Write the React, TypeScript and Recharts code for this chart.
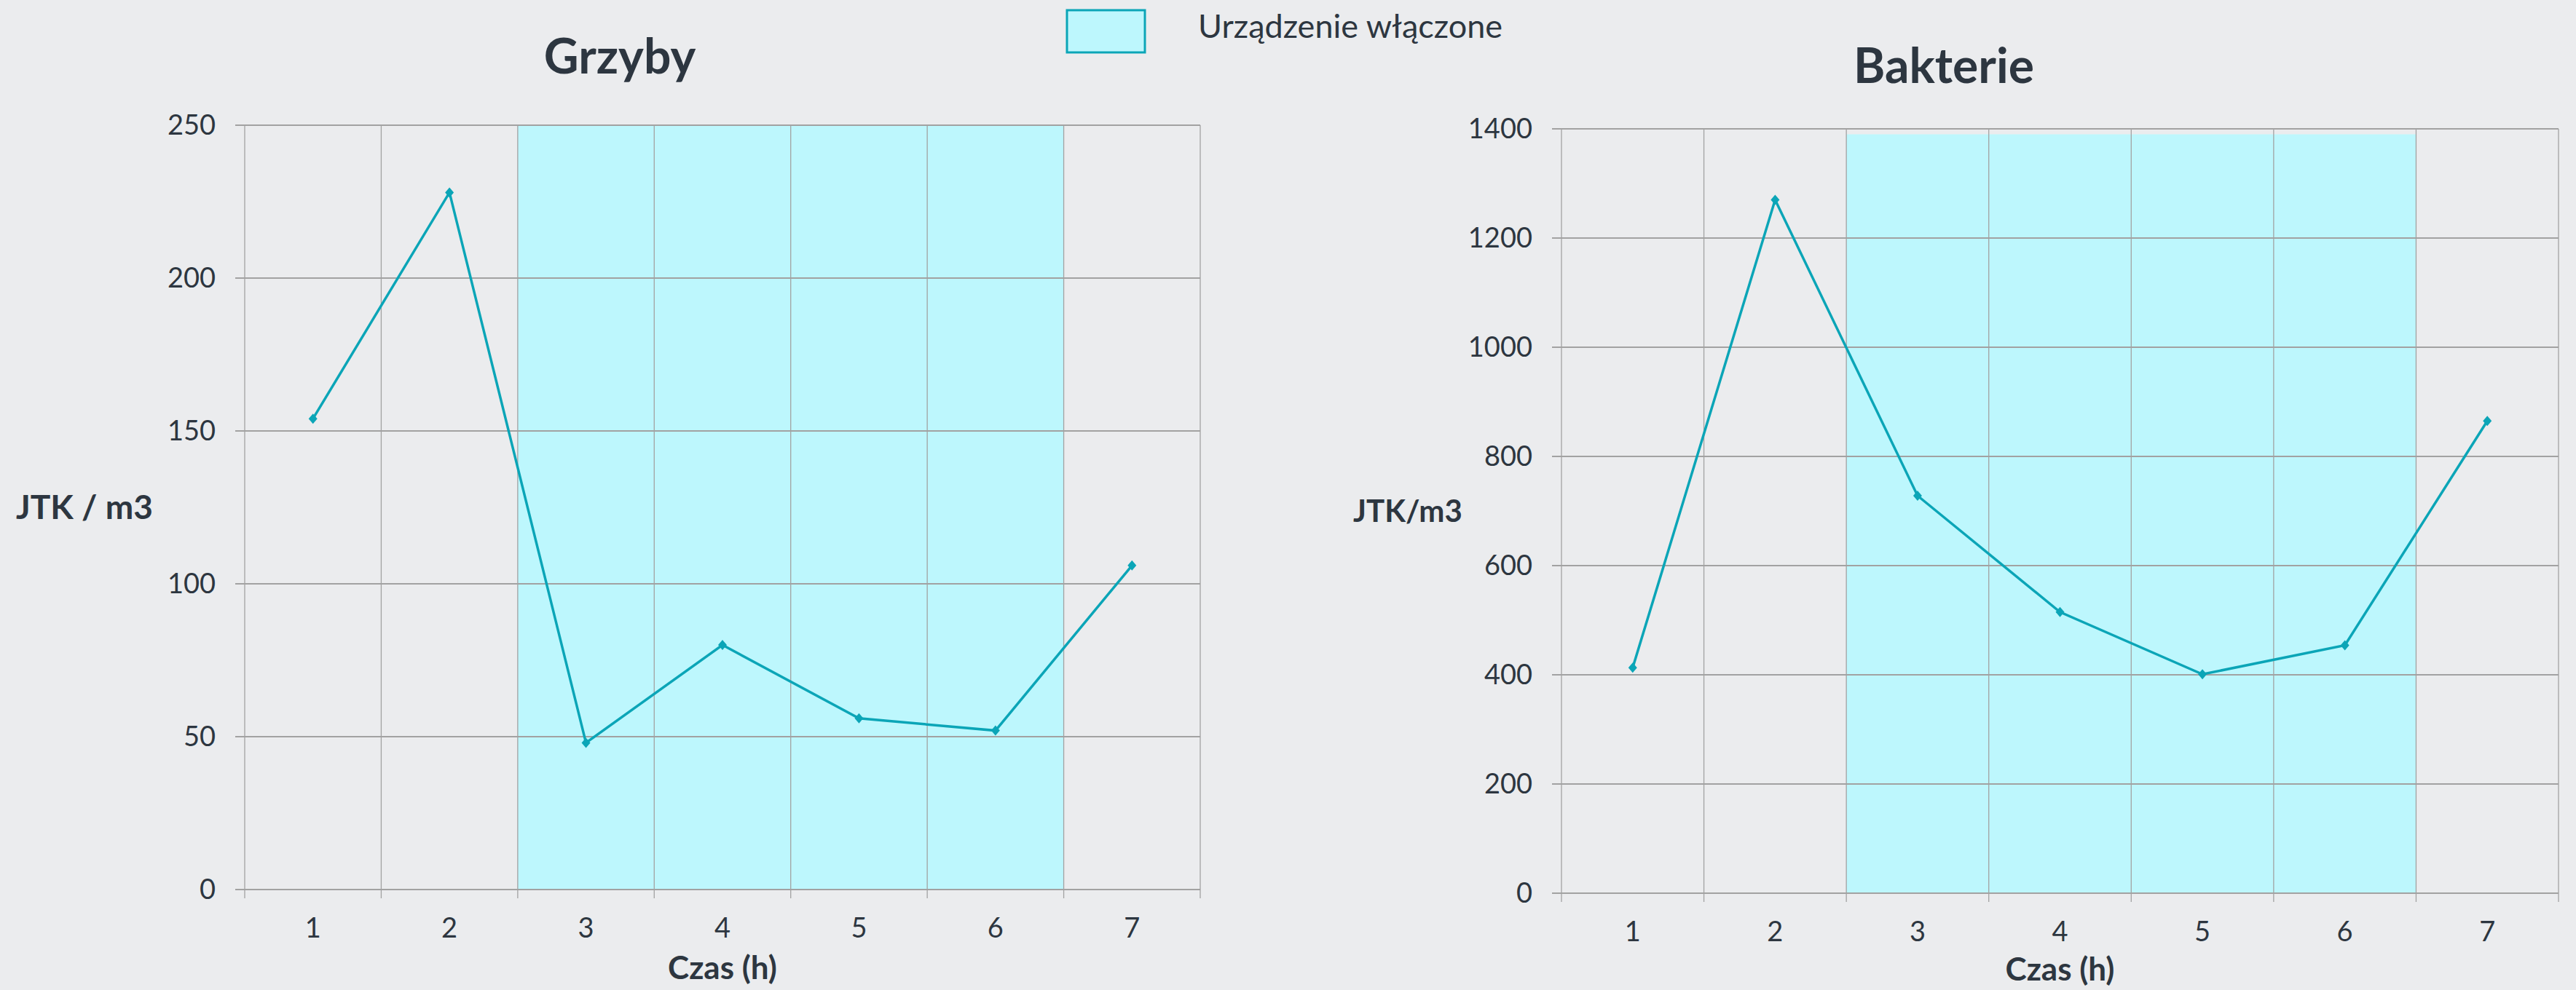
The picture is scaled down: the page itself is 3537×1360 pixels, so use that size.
import React from "react";
import { ComposedChart, Line, XAxis, YAxis, CartesianGrid, ReferenceArea } from "recharts";

// hours of measurement
const hours = [1, 2, 3, 4, 5, 6, 7];
// hours when the device was switched on
const deviceOnHours = [3, 4, 5, 6];

const fungiValues = [154, 228, 48, 80, 56, 52, 106];
const bacteriaValues = [413, 1270, 728, 515, 401, 454, 865];

const fungiTicks = [0, 50, 100, 150, 200, 250];
const bacteriaTicks = [0, 200, 400, 600, 800, 1000, 1200, 1400];

// top of the shaded band in each chart
const fungiShadeTop = 250;
const bacteriaShadeTop = 1390;

const BG = "#EBECEE";
const TEXT = "#2D3640";
const TEAL = "#0BA5B7";
const SHADE = "#BDF7FD";
const GRID = "#A2A2A2";
const FONT = "Lato, 'Open Sans', sans-serif";

const boundaries = [...hours.map(h => h - 0.5), hours[hours.length - 1] + 0.5];
const allXTicks = [...boundaries, ...hours].sort((a, b) => a - b);

function Diamond(props: any) {
  const { cx, cy, index } = props;
  if (cx == null || cy == null) return <g key={index} />;
  return (
    <path
      key={`d-${index}`}
      d={`M${cx},${cy - 7}L${cx + 6},${cy}L${cx},${cy + 7}L${cx - 6},${cy}Z`}
      fill={TEAL}
    />
  );
}

function XTick(props: any) {
  const { x, y, payload } = props;
  const v = payload.value;
  if (Number.isInteger(v)) {
    return (
      <text x={x} y={y + 66} textAnchor="middle" fill={TEXT} fontSize={38} fontFamily={FONT}>
        {v}
      </text>
    );
  }
  return <line x1={x} y1={y} x2={x} y2={y + 12} stroke={GRID} strokeWidth={1.3} />;
}

interface PanelProps {
  values: number[];
  yTicks: number[];
  shadeTop: number;
  yLabel: string;
  yLabelSize: number;
  width: number;
  marginTop: number;
  marginRight: number;
  yAxisWidth: number;
  xAxisHeight: number;
  yLabelOffset: number;
  xLabelOffset: number;
}

function Panel(p: PanelProps) {
  const data = hours.map((h, i) => ({ h, v: p.values[i] }));
  const yMax = p.yTicks[p.yTicks.length - 1];
  return (
    <ComposedChart
      width={p.width}
      height={1360}
      data={data}
      margin={{ top: p.marginTop, right: p.marginRight, left: 0, bottom: 0 }}
    >
      <ReferenceArea
        x1={Math.min(...deviceOnHours) - 0.5}
        x2={Math.max(...deviceOnHours) + 0.5}
        y1={0}
        y2={p.shadeTop}
        fill={SHADE}
        fillOpacity={1}
        stroke="none"
        zIndex={-150}
      />
      <CartesianGrid vertical={false} stroke={GRID} strokeWidth={2} />
      <CartesianGrid horizontal={false} verticalValues={boundaries} stroke={GRID} strokeWidth={1.3} />
      <XAxis
        dataKey="h"
        type="number"
        domain={[boundaries[0], boundaries[boundaries.length - 1]]}
        ticks={allXTicks}
        interval={0}
        tick={<XTick />}
        tickLine={false}
        tickSize={0}
        tickMargin={0}
        axisLine={false}
        height={p.xAxisHeight}
        label={{
          value: "Czas (h)",
          position: "insideBottom",
          offset: p.xLabelOffset,
          fill: TEXT,
          fontSize: 44,
          fontWeight: 700,
          fontFamily: FONT,
        }}
      />
      <YAxis
        domain={[0, yMax]}
        ticks={p.yTicks}
        interval={0}
        width={p.yAxisWidth}
        axisLine={false}
        tickSize={13}
        tickMargin={27}
        tickLine={{ stroke: GRID, strokeWidth: 2 }}
        tick={{ fill: TEXT, fontSize: 38, fontFamily: FONT }}
        label={{
          value: p.yLabel,
          position: "insideLeft",
          offset: p.yLabelOffset,
          angle: 0,
          fill: TEXT,
          fontSize: p.yLabelSize,
          fontWeight: 700,
          fontFamily: FONT,
        }}
      />
      <Line
        dataKey="v"
        type="linear"
        stroke={TEAL}
        strokeWidth={3.5}
        dot={Diamond}
        activeDot={false}
        isAnimationActive={false}
      />
    </ComposedChart>
  );
}

export default function App() {
  return (
    <div
      style={{
        position: "absolute",
        left: 0,
        top: 0,
        width: 3537,
        height: 1360,
        background: BG,
        fontFamily: FONT,
        overflow: "hidden",
      }}
    >
      <svg width={3537} height={1360} style={{ position: "absolute", left: 0, top: 0 }}>
        <text x={851} y={101} textAnchor="middle" fill={TEXT} fontSize={66} fontWeight={700} fontFamily={FONT}>
          Grzyby
        </text>
        <text x={2669} y={114} textAnchor="middle" fill={TEXT} fontSize={66} fontWeight={700} fontFamily={FONT}>
          Bakterie
        </text>
        <rect x={1465} y={14} width={107} height={58} fill={SHADE} stroke={TEAL} strokeWidth={3} />
        <text x={1645} y={52} fill={TEXT} fontSize={45} fontFamily={FONT}>
          Urządzenie włączone
        </text>
      </svg>
      <div style={{ position: "absolute", left: 0, top: 0 }}>
        <Panel
          values={fungiValues}
          yTicks={fungiTicks}
          shadeTop={fungiShadeTop}
          yLabel="JTK / m3"
          yLabelSize={46}
          width={1700}
          marginTop={172}
          marginRight={52}
          yAxisWidth={336}
          xAxisHeight={138}
          yLabelOffset={22}
          xLabelOffset={15}
        />
      </div>
      <div style={{ position: "absolute", left: 1750, top: 0 }}>
        <Panel
          values={bacteriaValues}
          yTicks={bacteriaTicks}
          shadeTop={bacteriaShadeTop}
          yLabel="JTK/m3"
          yLabelSize={42}
          width={1787}
          marginTop={177}
          marginRight={24}
          yAxisWidth={394}
          xAxisHeight={133}
          yLabelOffset={108}
          xLabelOffset={13}
        />
      </div>
    </div>
  );
}
